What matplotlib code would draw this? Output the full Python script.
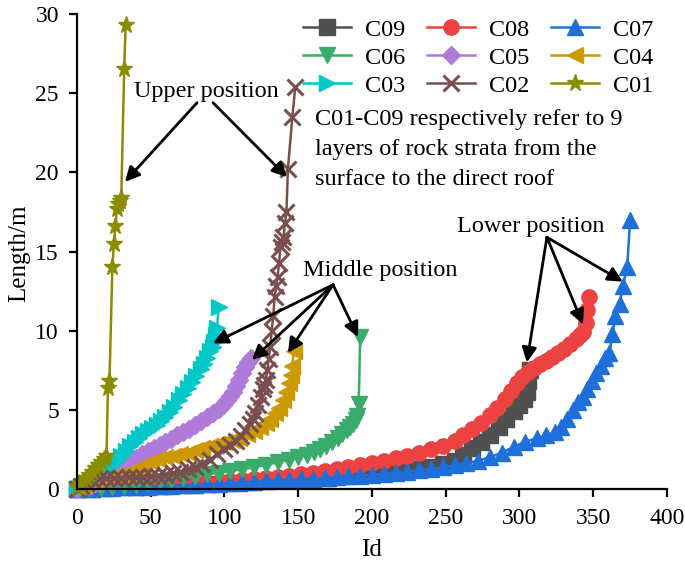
import matplotlib
matplotlib.use("Agg")
import matplotlib.pyplot as plt

plt.rcParams["font.family"] = "serif"
plt.rcParams["font.serif"] = ["Liberation Serif", "DejaVu Serif"]

# ---- data (Id, Length/m) ----
c09_id = [0, 10, 20, 30, 40, 50, 60, 70, 80, 90, 100, 110, 120, 130, 140, 150,
          160, 170, 180, 190, 200, 210, 220, 230, 240, 248, 256, 262, 268, 274,
          280, 286, 291, 296, 300, 303, 305, 306, 307]
c09_len = [0.0, 0.03, 0.06, 0.1, 0.13, 0.16, 0.2, 0.24, 0.28, 0.32, 0.36, 0.4,
           0.45, 0.5, 0.55, 0.6, 0.66, 0.72, 0.8, 0.88, 0.96, 1.05, 1.15, 1.27,
           1.4, 1.55, 1.8, 2.15, 2.6, 3.0, 3.4, 3.9, 4.4, 4.9, 5.3, 5.7, 6.1,
           6.8, 7.5]

c08_id = [0, 8, 16, 24, 32, 40, 48, 56, 64, 72, 80, 88, 96, 104, 112, 120, 128,
          136, 144, 152, 160, 168, 176, 184, 192, 200, 208, 216, 224, 232, 240,
          248, 256, 262, 268, 274, 280, 285, 290, 294, 298, 302, 306, 310, 314,
          318, 322, 326, 330, 334, 338, 341, 343, 345, 346, 347]
c08_len = [0.0, 0.04, 0.08, 0.12, 0.15, 0.18, 0.2, 0.24, 0.28, 0.32, 0.36, 0.4,
           0.45, 0.5, 0.55, 0.62, 0.68, 0.75, 0.83, 0.92, 1.02, 1.13, 1.25,
           1.38, 1.52, 1.66, 1.8, 1.95, 2.1, 2.3, 2.5, 2.7, 3.05, 3.4, 3.8, 4.2,
           4.65, 5.1, 5.7, 6.2, 6.7, 7.1, 7.4, 7.65, 7.9, 8.1, 8.35, 8.6, 8.85,
           9.15, 9.45, 9.75, 9.9, 10.5, 11.3, 12.1]

c07_id = [0, 8, 16, 24, 32, 40, 48, 56, 64, 72, 80, 88, 96, 104, 112, 120, 128,
          136, 144, 152, 160, 168, 176, 184, 192, 200, 208, 216, 224, 232, 240,
          248, 256, 264, 272, 280, 288, 296, 304, 312, 318, 324, 328, 332, 336,
          340, 343, 346, 349, 352, 355, 358, 361, 363, 365, 368, 370, 373, 375]
c07_len = [0.0, 0.03, 0.05, 0.08, 0.1, 0.12, 0.15, 0.18, 0.2, 0.24, 0.27, 0.3,
           0.34, 0.38, 0.42, 0.46, 0.5, 0.54, 0.58, 0.62, 0.66, 0.7, 0.75, 0.8,
           0.85, 0.9, 0.97, 1.03, 1.1, 1.18, 1.27, 1.37, 1.5, 1.63, 1.8, 2.0,
           2.3, 2.65, 3.0, 3.2, 3.4, 3.6, 3.9, 4.4, 5.0, 5.5, 5.8, 6.3, 6.8,
           7.3, 7.8, 8.3, 8.6, 9.8, 10.9, 11.7, 12.8, 14.0, 17.0]

c06_id = [0, 8, 16, 24, 32, 40, 48, 56, 64, 72, 80, 88, 96, 104, 112, 120, 128,
          136, 144, 150, 156, 161, 165, 169, 173, 177, 180, 183, 185, 187, 189,
          190, 191, 192]
c06_len = [0.0, 0.04, 0.08, 0.13, 0.2, 0.28, 0.38, 0.5, 0.6, 0.72, 0.82, 0.92,
           1.02, 1.12, 1.25, 1.38, 1.52, 1.68, 1.85, 2.0, 2.15, 2.35, 2.5, 2.7,
           2.95, 3.25, 3.45, 3.7, 3.9, 4.1, 4.35, 4.6, 5.4, 9.6]

c05_id = [0, 4, 8, 12, 16, 20, 24, 28, 32, 36, 40, 44, 48, 52, 56, 60, 64, 68,
          72, 76, 80, 84, 88, 92, 96, 99, 102, 104, 106, 108, 110, 112, 114,
          116, 118]
c05_len = [0.0, 0.12, 0.25, 0.38, 0.5, 0.62, 0.8, 1.05, 1.35, 1.65, 1.95, 2.2,
           2.4, 2.6, 2.8, 2.95, 3.15, 3.4, 3.6, 3.8, 4.05, 4.3, 4.55, 4.8, 5.05,
           5.3, 5.6, 5.85, 6.15, 6.5, 6.9, 7.3, 7.7, 8.0, 8.3]

c04_id = [0, 5, 10, 15, 20, 25, 30, 35, 40, 45, 50, 55, 60, 65, 70, 75, 80, 85,
          90, 95, 100, 105, 110, 115, 120, 124, 128, 131, 134, 137, 140, 142,
          144, 145, 146, 147]
c04_len = [0.0, 0.2, 0.4, 0.55, 0.7, 0.8, 0.9, 1.05, 1.25, 1.5, 1.7, 1.9, 2.0,
           2.1, 2.2, 2.3, 2.45, 2.6, 2.7, 2.85, 3.0, 3.1, 3.25, 3.45, 3.65, 3.9,
           4.15, 4.4, 4.8, 5.1, 5.6, 6.1, 6.7, 7.2, 7.8, 8.7]

c03_id = [0, 3, 6, 9, 12, 15, 18, 21, 24, 27, 30, 33, 36, 39, 42, 45, 48, 51,
          54, 57, 60, 63, 66, 69, 72, 75, 78, 81, 84, 86, 88, 90, 92, 93, 94,
          95, 96]
c03_len = [0.0, 0.15, 0.3, 0.5, 0.65, 0.85, 1.05, 1.3, 1.5, 1.8, 2.1, 2.4, 2.7,
           2.95, 3.2, 3.45, 3.65, 3.85, 4.05, 4.3, 4.55, 4.85, 5.2, 5.6, 6.0,
           6.4, 6.75, 7.15, 7.6, 7.9, 8.3, 8.7, 9.0, 9.3, 9.7, 10.2, 11.5]

c02_id = [0, 3, 6, 10, 15, 20, 25, 30, 35, 40, 45, 50, 55, 60, 65, 70, 75, 80,
          85, 90, 95, 100, 104, 108, 111, 114, 117, 119, 121, 123, 125, 126,
          127, 128, 129, 130, 131, 132, 133, 134, 135, 136, 137, 138, 139, 140,
          141, 142, 143, 146, 148]
c02_len = [0.0, 0.2, 0.4, 0.6, 0.65, 0.7, 0.7, 0.72, 0.75, 0.75, 0.78, 0.8,
           0.85, 0.9, 1.0, 1.1, 1.25, 1.4, 1.6, 1.85, 2.2, 2.5, 2.75, 3.05,
           3.35, 3.7, 4.1, 4.4, 4.8, 5.3, 5.8, 6.3, 6.6, 6.9, 7.5, 8.2, 9.0,
           10.0, 10.9, 12.1, 12.8, 13.4, 14.3, 15.3, 15.6, 15.9, 16.8, 17.5,
           20.2, 23.5, 25.4]

c01_id = [0, 2, 4, 6, 8, 10, 12, 14, 16, 18, 20, 21, 22, 24, 25, 26, 27, 28,
          29, 30, 32, 33]
c01_len = [0.1, 0.3, 0.5, 0.7, 0.9, 1.1, 1.3, 1.5, 1.7, 1.9, 2.1, 6.4, 6.8,
           14.0, 15.5, 16.6, 17.7, 18.0, 18.2, 18.4, 26.5, 29.3]

series = [
    ("C09", c09_id, c09_len, "#505050", "s"),
    ("C08", c08_id, c08_len, "#ec4242", "o"),
    ("C07", c07_id, c07_len, "#1f6fdb", "^"),
    ("C06", c06_id, c06_len, "#3aab6b", "v"),
    ("C05", c05_id, c05_len, "#b07ad9", "D"),
    ("C04", c04_id, c04_len, "#cc9900", "<"),
    ("C03", c03_id, c03_len, "#00c8c8", ">"),
    ("C02", c02_id, c02_len, "#7a4e4e", "x"),
    ("C01", c01_id, c01_len, "#8c8c00", "*"),
]

fig = plt.figure(figsize=(6.85, 5.61), dpi=100)
ax = fig.add_axes([0.1124, 0.1283, 0.8613, 0.8467])

handles = {}
for name, xs, ys, color, mk in series:
    ms = 9.5 if mk == "D" else (12.5 if mk == "*" else 11)
    mew = 2.2 if mk == "x" else 1
    h, = ax.plot(xs, ys, color=color, marker=mk, markersize=ms, lw=1.8,
                 markeredgewidth=mew, clip_on=False, label=name)
    handles[name] = h

ax.set_xlim(0, 400)
ax.set_ylim(0, 30)
ax.set_xticks(range(0, 401, 50))
ax.set_yticks(range(0, 31, 5))
for side in ("top", "right"):
    ax.spines[side].set_visible(False)
for side in ("left", "bottom"):
    ax.spines[side].set_linewidth(1.6)
ax.tick_params(direction="out", length=6, width=1.6, labelsize=17)
ax.tick_params(axis="x", pad=8)
ax.tick_params(axis="y", pad=7)

ax.set_xlabel("Id", fontsize=18)
ax.xaxis.set_label_coords(0.5, -0.106)
ax.set_ylabel("Length/m", fontsize=18)
ax.yaxis.set_label_coords(-0.08, 0.497)

# legend: 3 columns, filled column by column
order = ["C09", "C06", "C03", "C08", "C05", "C02", "C07", "C04", "C01"]
ax.legend([handles[n] for n in order], order, ncol=3, frameon=False,
          loc="upper left", bbox_to_anchor=(0.442, 0.967),
          bbox_transform=fig.transFigure, fontsize=17.5, handlelength=2.0,
          handletextpad=0.57, columnspacing=0.87, labelspacing=0.25,
          borderpad=0, borderaxespad=0)

ax.text(161.4, 24.0, "C01-C09 respectively refer to 9\nlayers of rock strata from the\nsurface to the direct roof",
        fontsize=17.5, ha="left", va="top", linespacing=1.55)

arrow = dict(arrowstyle="-|>", color="black", lw=2, mutation_scale=22,
             shrinkA=0, shrinkB=0)

ax.text(87.8, 25.08, "Upper position", fontsize=17.5, ha="center", va="center")
for start, end in [((81.4, 24.4), (32.5, 19.4)), ((92.2, 24.4), (142.4, 19.7))]:
    ax.annotate("", xy=end, xytext=start, arrowprops=arrow)

ax.text(205.8, 13.83, "Middle position", fontsize=17.5, ha="center", va="center")
for end in [(92.2, 9.2), (118.6, 8.15), (143.0, 8.6), (190.5, 9.6)]:
    ax.annotate("", xy=end, xytext=(173.6, 12.9), arrowprops=arrow)

ax.text(307.8, 16.6, "Lower position", fontsize=17.5, ha="center", va="center")
for end in [(305.0, 8.0), (343.0, 10.4), (370.0, 13.1)]:
    ax.annotate("", xy=end, xytext=(318.6, 15.9), arrowprops=arrow)

fig.savefig("out.png", dpi=100)
